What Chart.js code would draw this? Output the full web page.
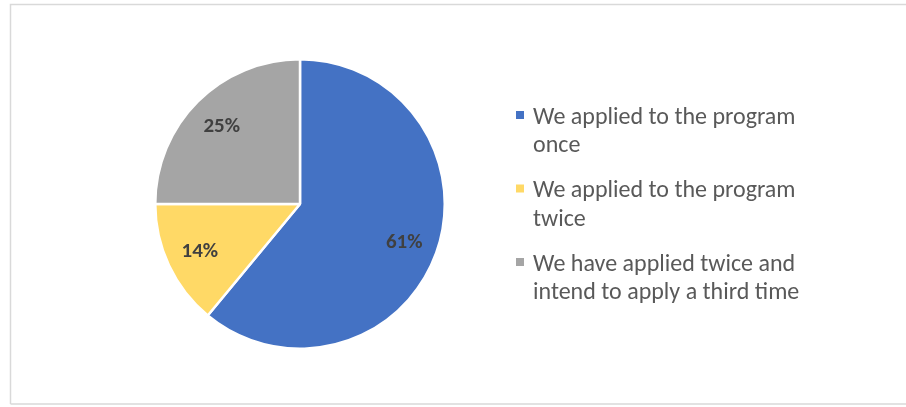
<!DOCTYPE html>
<html>
<head>
<meta charset="utf-8">
<script src="https://cdn.jsdelivr.net/npm/chart.js@4/dist/chart.umd.min.js"></script>
<style>
  html, body { margin: 0; padding: 0; background: #ffffff; }
  #wrap { width: 906px; height: 407px; position: relative; }
</style>
</head>
<body>
<div id="wrap"><canvas id="c" width="906" height="407"></canvas></div>
<script>
const categories = [
  ["We applied to the program", "once"],
  ["We applied to the program", "twice"],
  ["We have applied twice and", "intend to apply a third time"]
];
const percentValues = [61, 14, 25];
const sliceColors = ["#4472C4", "#FFD966", "#A5A5A5"];

const FONT = "Carlito, Lato, 'Liberation Sans', sans-serif";

const framePlugin = {
  id: 'frame',
  beforeDraw(chart) {
    const ctx = chart.ctx;
    ctx.save();
    ctx.fillStyle = '#ffffff';
    ctx.fillRect(0, 0, chart.width, chart.height);
    ctx.strokeStyle = '#D9D9D9';
    ctx.lineWidth = 1.5;
    ctx.beginPath();
    ctx.moveTo(10.5, 404);
    ctx.lineTo(10.5, 4.5);
    ctx.lineTo(906, 4.5);
    ctx.moveTo(10.5, 404);
    ctx.lineTo(906, 404);
    ctx.stroke();
    ctx.restore();
  }
};

const labelPlugin = {
  id: 'sliceLabels',
  afterDatasetsDraw(chart) {
    const ctx = chart.ctx;
    const meta = chart.getDatasetMeta(0);
    const ds = chart.data.datasets[0];
    ctx.save();
    ctx.font = "bold 21px " + FONT;
    ctx.fillStyle = '#404040';
    ctx.textAlign = 'center';
    ctx.textBaseline = 'middle';
    meta.data.forEach((arc, i) => {
      const p = arc.getProps(['x', 'y', 'startAngle', 'endAngle', 'outerRadius'], true);
      const mid = (p.startAngle + p.endAngle) / 2;
      const r = p.outerRadius * 0.765;
      ctx.fillText(ds.data[i] + '%', p.x + Math.cos(mid) * r, p.y + Math.sin(mid) * r + 1);
    });
    ctx.restore();
  }
};

const legendPlugin = {
  id: 'wrapLegend',
  afterDraw(chart) {
    const ctx = chart.ctx;
    const labels = chart.data.labels;
    const colors = chart.data.datasets[0].backgroundColor;
    ctx.save();
    ctx.font = "24px " + FONT;
    ctx.textAlign = 'left';
    ctx.textBaseline = 'middle';
    const x0 = 516, tx = 533;
    let y = 115;
    const lineH = 28.5, itemGap = 16.5;
    labels.forEach((lines, i) => {
      ctx.fillStyle = colors[i];
      ctx.fillRect(x0, y - 4, 8, 8);
      ctx.fillStyle = '#595959';
      lines.forEach((ln, j) => {
        ctx.fillText(ln, tx, y + 2.5 + j * lineH);
      });
      y += lines.length * lineH + itemGap;
    });
    ctx.restore();
  }
};

new Chart(document.getElementById('c'), {
  type: 'pie',
  data: {
    labels: categories,
    datasets: [{
      data: percentValues,
      backgroundColor: sliceColors,
      borderColor: '#ffffff',
      borderWidth: 2.5,
      hoverOffset: 0
    }]
  },
  options: {
    responsive: false,
    animation: false,
    events: [],
    layout: { padding: { left: 154, right: 460, top: 58, bottom: 57 } },
    plugins: {
      legend: { display: false },
      tooltip: { enabled: false }
    }
  },
  plugins: [framePlugin, labelPlugin, legendPlugin]
});
</script>
</body>
</html>
